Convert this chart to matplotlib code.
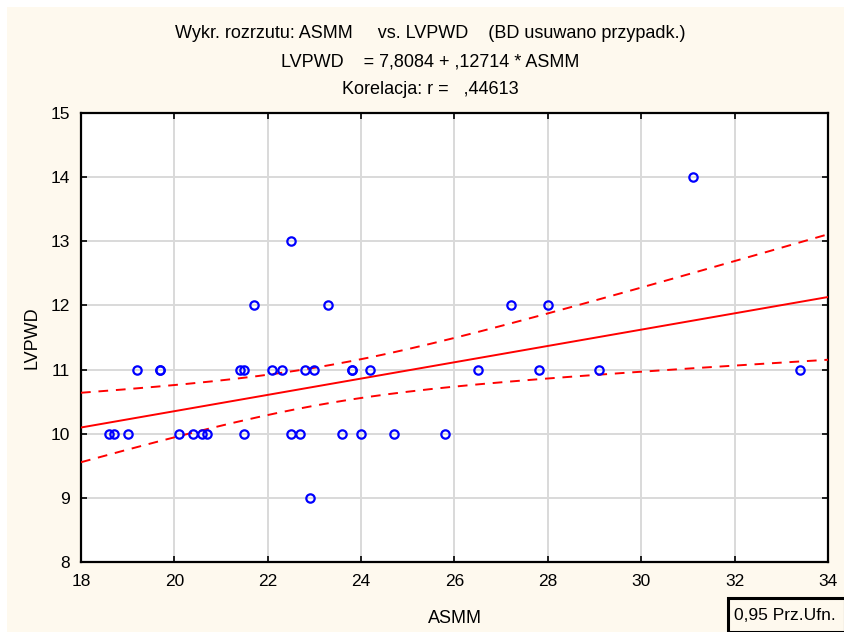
import numpy as np
import matplotlib
matplotlib.use("Agg")
import matplotlib.pyplot as plt
from matplotlib.patches import Rectangle

plt.rcParams['font.family'] = ['Liberation Sans', 'DejaVu Sans']

# Observations (ASMM, LVPWD)
asmm = [18.6, 18.7, 19.0, 20.1, 20.4, 20.6, 20.7, 21.5, 22.5, 22.7, 23.6, 24.0, 24.7, 25.8,
        19.2, 19.7, 19.7, 21.4, 21.5, 22.1, 22.3, 22.8, 23.0, 23.8, 23.8, 24.2, 26.5, 27.8, 29.1, 33.4,
        21.7, 23.3, 27.2, 28.0,
        22.5, 31.1, 22.9]
lvpwd = [10, 10, 10, 10, 10, 10, 10, 10, 10, 10, 10, 10, 10, 10,
         11, 11, 11, 11, 11, 11, 11, 11, 11, 11, 11, 11, 11, 11, 11, 11,
         12, 12, 12, 12,
         13, 14, 9]

# Fitted regression: LVPWD = 7,8084 + ,12714 * ASMM
intercept = 7.8084
slope = 0.12714
conf_level = 0.95

xticks = [18, 20, 22, 24, 26, 28, 30, 32, 34]
yticks = [8, 9, 10, 11, 12, 13, 14, 15]

x = np.array(asmm, dtype=float)
y = np.array(lvpwd, dtype=float)
n = len(x)
resid = y - (intercept + slope * x)
s = np.sqrt(np.sum(resid ** 2) / (n - 2))
sxx = np.sum((x - x.mean()) ** 2)
t_crit = 2.03  # t(0.975, n-2)

xs = np.linspace(18, 34, 200)
ys = intercept + slope * xs
half = t_crit * s * np.sqrt(1.0 / n + (xs - x.mean()) ** 2 / sxx)

fig = plt.figure(figsize=(8.45, 6.32), dpi=100)
fig.patch.set_facecolor('white')
fig.add_artist(Rectangle((7 / 845, 0), 1 - 7 / 845, 1 - 7 / 632,
                         transform=fig.transFigure, facecolor='#FEF9EE',
                         edgecolor='none', zorder=-10))

ax = fig.add_axes([81 / 845, 1 - 562 / 632, (828 - 81) / 845, (562 - 113) / 632])
ax.set_facecolor('white')
ax.set_xlim(18, 34)
ax.set_ylim(8, 15)
ax.set_xticks(xticks)
ax.set_yticks(yticks)
ax.grid(True, color='#D9D9D9', linewidth=1.4, zorder=0)
ax.tick_params(direction='in', length=4, width=1.2, top=True, right=True,
               labelsize=12.5, pad=8, colors='black')
ax.tick_params(axis='x', pad=9)
for sp in ax.spines.values():
    sp.set_linewidth(1.6)
    sp.set_color('black')

ax.plot(xs, ys, color='#FF0000', linewidth=1.4, zorder=3)
ax.plot(xs, ys + half, color='#FF0000', linewidth=1.4, linestyle=(0, (5, 4)), zorder=3)
ax.plot(xs, ys - half, color='#FF0000', linewidth=1.4, linestyle=(0, (5, 4)), zorder=3)
ax.plot(x, y, linestyle='none', marker='o', markersize=6, markerfacecolor='none',
        markeredgecolor='#0000FF', markeredgewidth=1.6, zorder=4)

ax.set_xlabel('ASMM', fontsize=13, labelpad=15)
ax.set_ylabel('LVPWD', fontsize=13, labelpad=7)

cx = 430 / 845
fig.text(cx, 1 - 34 / 632, 'Wykr. rozrzutu: ASMM     vs. LVPWD    (BD usuwano przypadk.)',
         ha='center', va='center', fontsize=13)
fig.text(cx, 1 - 62 / 632, 'LVPWD    = 7,8084 + ,12714 * ASMM',
         ha='center', va='center', fontsize=13)
fig.text(cx, 1 - 90 / 632, 'Korelacja: r =   ,44613',
         ha='center', va='center', fontsize=13)

# Confidence-band note box
fig.add_artist(Rectangle((728 / 845, 0), (845 - 728) / 845, (632 - 598) / 632,
                         transform=fig.transFigure, facecolor='#FEF9EE',
                         edgecolor='black', linewidth=2.2, zorder=5))
fig.text(734 / 845, 1 - 616 / 632, f'{conf_level:.2f}'.replace('.', ',') + ' Prz.Ufn.',
         ha='left', va='center', fontsize=12.5, zorder=6)

fig.savefig('out.png', dpi=100, facecolor=fig.get_facecolor())
